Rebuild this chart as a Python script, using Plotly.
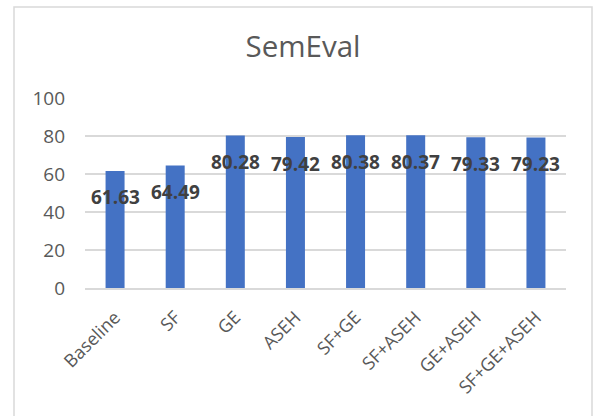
import plotly.graph_objects as go

categories = ["Baseline", "SF", "GE", "ASEH", "SF+GE", "SF+ASEH", "GE+ASEH", "SF+GE+ASEH"]
values = [61.63, 64.49, 80.28, 79.42, 80.38, 80.37, 79.33, 79.23]
y_ticks = [0, 20, 40, 60, 80, 100]
title_text = "SemEval"

W, H = 593, 416
L, R, T, B = 85, 27, 98, 128
pw, ph = W - L - R, H - T - B

fig = go.Figure()
fig.add_trace(go.Bar(
    x=categories, y=values,
    marker=dict(color="#4472C4", line=dict(width=0)),
    hoverinfo="x+y",
))

for c, v in zip(categories, values):
    fig.add_annotation(
        x=c, y=v, text=f"{v:.2f}", showarrow=False,
        yanchor="middle", xanchor="center", yshift=-26.5,
        font=dict(family="Open Sans", size=19, color="#404040", weight="bold"),
    )

def px_x(x):
    return (x - L) / pw

def px_y(y):
    return (H - B - y) / ph

fig.add_shape(
    type="path", xref="paper", yref="paper",
    path=f"M {px_x(14)} {px_y(440)} L {px_x(14)} {px_y(7)} L {px_x(592)} {px_y(7)} L {px_x(592)} {px_y(440)}",
    line=dict(color="#d9d9d9", width=1.5),
)

fig.update_layout(
    width=W, height=H,
    margin=dict(l=L, r=R, t=T, b=B, pad=0),
    paper_bgcolor="white", plot_bgcolor="white",
    bargap=0.684,
    showlegend=False,
    title=dict(
        text=title_text, x=303 / W, xanchor="center", y=1 - 47 / H, yanchor="middle",
        font=dict(family="Open Sans", size=29.5, color="#595959"),
    ),
    font=dict(family="Open Sans", color="#595959"),
)
fig.update_yaxes(
    range=[0, 100], tickvals=y_ticks, showgrid=True, gridcolor="#d9d9d9", gridwidth=1.5,
    zeroline=False, showline=False, ticks="", ticklabelstandoff=19,
    tickfont=dict(family="Open Sans", size=19, color="#595959"),
)
fig.update_xaxes(
    tickangle=-45, showline=True, linecolor="#d9d9d9", linewidth=1.6, ticks="",
    ticklabelstandoff=10,
    tickfont=dict(family="Open Sans", size=18, color="#595959"),
)

fig.write_html("out.html")
